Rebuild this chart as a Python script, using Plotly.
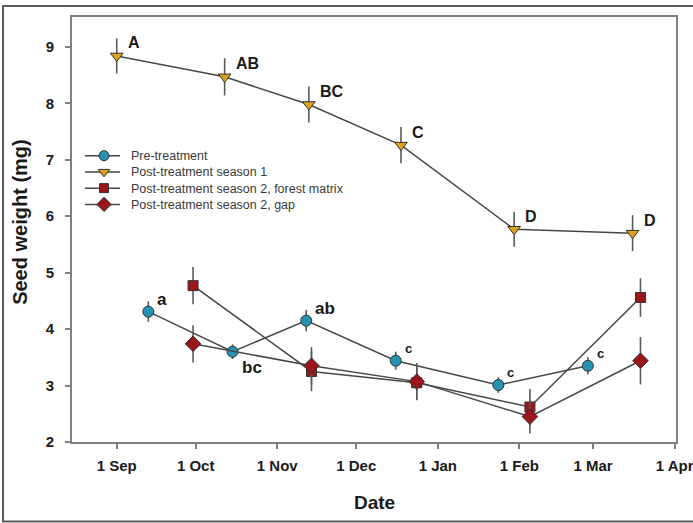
import plotly.graph_objects as go

# ---------------- data ----------------
tick_dates = ['2010-09-01', '2010-10-01', '2010-11-01', '2010-12-01',
              '2011-01-01', '2011-02-01', '2011-03-01', '2011-04-01']
tick_labels = ['1 Sep', '1 Oct', '1 Nov', '1 Dec', '1 Jan', '1 Feb', '1 Mar', '1 Apr']

pre_dates = ['2010-09-13', '2010-10-15', '2010-11-12', '2010-12-16', '2011-01-24', '2011-02-27']
pre_vals = [4.31, 3.60, 4.15, 3.44, 3.01, 3.35]
pre_err = [0.18, 0.13, 0.19, 0.16, 0.14, 0.15]
pre_letters = ['a', 'bc', 'ab', 'c', 'c', 'c']

s1_dates = ['2010-09-01', '2010-10-12', '2010-11-13', '2010-12-18', '2011-01-30', '2011-03-16']
s1_vals = [8.84, 8.47, 7.98, 7.26, 5.77, 5.70]
s1_err = [0.31, 0.33, 0.32, 0.32, 0.31, 0.32]
s1_letters = ['A', 'AB', 'BC', 'C', 'D', 'D']

s2_dates = ['2010-09-30', '2010-11-14', '2010-12-24', '2011-02-05', '2011-03-19']
forest_vals = [4.77, 3.25, 3.05, 2.62, 4.56]
forest_err = [0.33, 0.35, 0.30, 0.32, 0.34]
gap_vals = [3.74, 3.35, 3.07, 2.45, 3.44]
gap_err = [0.33, 0.33, 0.33, 0.30, 0.42]

series_names = ['Pre-treatment', 'Post-treatment season 1',
                'Post-treatment season 2, forest matrix', 'Post-treatment season 2, gap']

# ---------------- styles ----------------
FONT = 'Liberation Sans, Arial, sans-serif'
LINE_C = '#474747'
ERR_C = '#5a5a5a'
OUTLINE = '#303030'
colors = ['#2592b2', '#dfa21f', '#9c1519', '#9c1519']
symbols = ['circle', 'triangle-down', 'square', 'diamond']
sizes = [11, 11, 10, 12]
pre_label_below = [False, True, False, False, False, False]
pre_label_size = [17, 17, 17, 13, 13, 13]

fig = go.Figure()

series = [
    (pre_dates, pre_vals, pre_err),
    (s1_dates, s1_vals, s1_err),
    (s2_dates, forest_vals, forest_err),
    (s2_dates, gap_vals, gap_err),
]
for i, (xd, yv, ye) in enumerate(series):
    fig.add_trace(go.Scatter(
        x=xd, y=yv, mode='lines+markers', name=series_names[i], showlegend=False,
        line=dict(color=LINE_C, width=1.5),
        marker=dict(symbol=symbols[i], size=sizes[i], color=colors[i],
                    line=dict(color=OUTLINE, width=1)),
        error_y=dict(type='data', array=ye, visible=True, color=ERR_C,
                     thickness=1.6, width=0),
    ))

# ---------------- custom compact legend (hidden overlay axes) ----------------
PLOT_H = 425.0
LEG_FONT = 12.5
LEG_STEP = 1.3 * LEG_FONT / PLOT_H          # plotly line spacing, in paper units
LEG_CENTER = (442 - 180) / PLOT_H
LEG_X0, LEG_XM, LEG_X1, LEG_TX = 0.0215, 0.053, 0.0795, 0.0944
n = len(series_names)
for i in range(n):
    ly = LEG_CENTER + ((n - 1) / 2 - i) * LEG_STEP
    fig.add_trace(go.Scatter(
        x=[LEG_X0, LEG_X1], y=[ly, ly], mode='lines', xaxis='x2', yaxis='y2',
        line=dict(color=LINE_C, width=1.5), showlegend=False, hoverinfo='skip'))
    fig.add_trace(go.Scatter(
        x=[LEG_XM], y=[ly], mode='markers', xaxis='x2', yaxis='y2',
        marker=dict(symbol=symbols[i], size=sizes[i] - 1, color=colors[i],
                    line=dict(color=OUTLINE, width=1)),
        showlegend=False, hoverinfo='skip'))
fig.add_annotation(x=LEG_TX, y=LEG_CENTER, xref='paper', yref='paper',
                   text='<br>'.join(series_names), align='left',
                   showarrow=False, xanchor='left', yanchor='middle',
                   font=dict(family=FONT, size=LEG_FONT, color='#3a3a3a'))

# ---------------- significance letters ----------------
for xd, yv, lt in zip(s1_dates, s1_vals, s1_letters):
    fig.add_annotation(x=xd, y=yv, text=lt, showarrow=False, xanchor='left',
                       yanchor='middle', xshift=9, yshift=13,
                       font=dict(family=FONT, size=16, color='#1a1a1a', weight='bold'))
for xd, yv, lt, below, fs in zip(pre_dates, pre_vals, pre_letters, pre_label_below, pre_label_size):
    fig.add_annotation(x=xd, y=yv, text=lt, showarrow=False, xanchor='left',
                       yanchor='middle', xshift=7, yshift=(-16 if below else 12),
                       font=dict(family=FONT, size=fs, color='#1a1a1a', weight='bold'))

# ---------------- axis titles ----------------
fig.add_annotation(x=0.5, y=-0.1435, xref='paper', yref='paper', text='Date',
                   showarrow=False, xanchor='center', yanchor='middle',
                   font=dict(family=FONT, size=19, color='#1a1a1a', weight='bold'))
fig.add_annotation(x=-0.0861, y=0.518, xref='paper', yref='paper', text='Seed weight (mg)',
                   showarrow=False, xanchor='center', yanchor='middle', textangle=-90,
                   font=dict(family=FONT, size=20, color='#1a1a1a', weight='bold'))

# outer frame
fig.add_shape(type='rect', xref='paper', yref='paper', x0=-0.1142, x1=1.03,
              y0=-0.187, y1=1.026, line=dict(color='#5a5a5a', width=2))

fig.update_layout(
    width=693, height=523,
    margin=dict(l=72, r=17, t=17, b=81, autoexpand=False),
    paper_bgcolor='white', plot_bgcolor='white',
    font=dict(family=FONT),
    xaxis=dict(type='date', range=['2010-08-15', '2011-04-01 12:00'],
               tickvals=tick_dates, ticktext=tick_labels, ticklabeloverflow='allow',
               automargin=False,
               showline=True, mirror=True, linecolor='#808080', linewidth=2,
               ticks='outside', ticklen=5, tickwidth=2, tickcolor='#808080',
               showgrid=False, zeroline=False, ticklabelstandoff=4,
               tickfont=dict(family=FONT, size=15, color='#1a1a1a', weight='bold')),
    yaxis=dict(range=[2, 9.53], tickvals=[2, 3, 4, 5, 6, 7, 8, 9],
               automargin=False,
               showline=True, mirror=True, linecolor='#808080', linewidth=2,
               ticks='outside', ticklen=5, tickwidth=2, tickcolor='#808080',
               showgrid=False, zeroline=False, ticklabelstandoff=8,
               tickfont=dict(family=FONT, size=15, color='#1a1a1a', weight='bold')),
    xaxis2=dict(overlaying='x', range=[0, 1], visible=False, fixedrange=True),
    yaxis2=dict(overlaying='y', range=[0, 1], visible=False, fixedrange=True),
    showlegend=False,
)

fig.write_html('out.html', config={'displayModeBar': False},
               post_script="document.body.style.margin='0px';"
                           "document.body.style.overflow='hidden';")
